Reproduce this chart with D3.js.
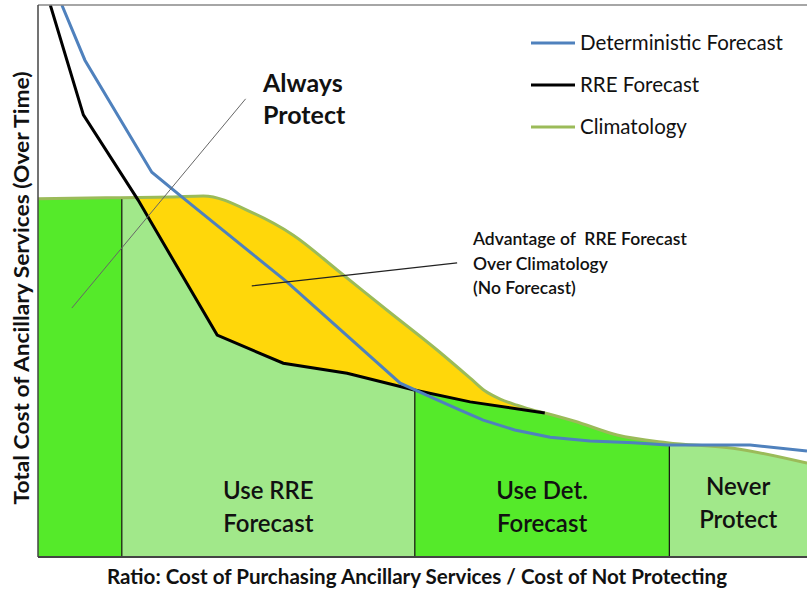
<!DOCTYPE html>
<html lang="en">
<head>
<meta charset="UTF-8">
<title>Ancillary services cost</title>
<style>
  body { margin: 0; background: #fff; }
  svg text { font-family: Lato, "Open Sans", sans-serif; fill: #111; }
</style>
</head>
<body>
<svg width="807" height="589"></svg>
<script src="https://d3js.org/d3.v7.min.js"></script>
<script>
// ratio axis runs 0..100, cost axis 0..100 (no ticks in the original)
var climX = [0, 10.7, 17.2, 21.5, 28.0, 33.2, 38.9, 45.4, 51.9, 56.2, 58.1, 60.1, 62.3, 64.4, 65.9, 69.8, 75.3, 81.8, 90.4, 100];
var climY = [64.9, 65.1, 65.2, 65.4, 62.3, 58.3, 52.0, 44.7, 37.5, 32.4, 30.1, 28.6, 27.5, 26.6, 26.1, 24.6, 22.1, 20.7, 19.7, 17.0];

var rreX = [1.6, 5.9, 13.0, 23.3, 31.9, 40.2, 48.8, 56.2, 65.9];
var rreY = [100, 80.1, 64.7, 40.2, 35.1, 33.3, 30.3, 28.1, 26.1];

var detX = [3.1, 6.1, 14.8, 18.9, 32.4, 47.1, 51.4, 54.9, 57.9, 62.0, 66.6, 71.8, 77.4, 81.8, 92.6, 100];
var detY = [100, 90.0, 69.7, 65.0, 49.8, 31.5, 28.8, 26.6, 24.8, 23.0, 21.7, 21.0, 20.7, 20.3, 20.3, 19.2];

// decision regions along the ratio axis
var regionEdges = [0, 10.9, 49.0, 82.1, 100];
var regionColors = ["#55ea2a", "#a1e88a", "#55ea2a", "#a1e88a"];
var regionLabels = [[], ["Use RRE", "Forecast"], ["Use Det.", "Forecast"], ["Never", "Protect"]];

var seriesNames = ["Deterministic Forecast", "RRE Forecast", "Climatology"];
var seriesColors = ["#4f81bd", "#000000", "#9bbb59"];

var svg = d3.select("svg");
var x = d3.scaleLinear().domain([0, 100]).range([38, 807]);
var y = d3.scaleLinear().domain([0, 100]).range([557, 5]);

var zip = function (xs, ys) { return xs.map(function (v, i) { return [v, ys[i]]; }); };
var clim = zip(climX, climY), rre = zip(rreX, rreY), det = zip(detX, detY);

var defs = svg.append("defs");
defs.append("clipPath").attr("id", "plot").append("rect")
    .attr("x", x(0)).attr("y", y(100)).attr("width", x(100) - x(0)).attr("height", y(0) - y(100));

var climArea = d3.area().curve(d3.curveMonotoneX)
    .x(d => x(d[0])).y0(y(0)).y1(d => y(d[1]));
var climLine = d3.line().curve(d3.curveMonotoneX)
    .x(d => x(d[0])).y(d => y(d[1]));
var straight = d3.line().x(d => x(d[0])).y(d => y(d[1]));

defs.append("clipPath").attr("id", "underClim").append("path").attr("d", climArea(clim));

// below the RRE curve, and everything to the right of where it joins climatology
var last = rre[rre.length - 1];
var rreClip = [[0, 0], [0, 100]].concat(rre, [[last[0], 110], [100, 110], [100, 0]]);
defs.append("clipPath").attr("id", "underRRE").append("path").attr("d", straight(rreClip) + "Z");

var plot = svg.append("g").attr("clip-path", "url(#plot)");

// yellow: advantage of RRE over climatology
plot.append("path").attr("d", climArea(clim)).attr("fill", "#ffd70a");

var regions = plot.append("g").attr("clip-path", "url(#underClim)")
    .append("g").attr("clip-path", "url(#underRRE)");

regions.selectAll("rect")
    .data(regionColors).enter().append("rect")
    .attr("x", (d, i) => x(regionEdges[i]))
    .attr("width", (d, i) => x(regionEdges[i + 1]) - x(regionEdges[i]))
    .attr("y", y(100)).attr("height", y(0) - y(100))
    .attr("fill", d => d);

regions.selectAll("line")
    .data(regionEdges.slice(1, -1)).enter().append("line")
    .attr("x1", d => x(d)).attr("x2", d => x(d))
    .attr("y1", y(0)).attr("y2", y(100))
    .attr("stroke", "#111").attr("stroke-width", 1.2);

plot.append("path").attr("d", climLine(clim))
    .attr("fill", "none").attr("stroke", seriesColors[2]).attr("stroke-width", 3);
plot.append("path").attr("d", straight(rre))
    .attr("fill", "none").attr("stroke", seriesColors[1]).attr("stroke-width", 3);
plot.append("path").attr("d", straight(det))
    .attr("fill", "none").attr("stroke", seriesColors[0]).attr("stroke-width", 3);

// frame
svg.append("line").attr("x1", x(0)).attr("x2", x(100)).attr("y1", y(100)).attr("y2", y(100))
    .attr("stroke", "#888").attr("stroke-width", 1.5);
svg.append("line").attr("x1", x(0)).attr("x2", x(0)).attr("y1", y(100)).attr("y2", y(0))
    .attr("stroke", "#444").attr("stroke-width", 1.5);
svg.append("line").attr("x1", x(0)).attr("x2", x(100)).attr("y1", y(0)).attr("y2", y(0))
    .attr("stroke", "#444").attr("stroke-width", 2);

// region labels
regionLabels.forEach(function (lines, i) {
    var cx = (x(regionEdges[i]) + x(regionEdges[i + 1])) / 2;
    lines.forEach(function (t, j) {
        svg.append("text").attr("x", cx).attr("y", (i == 3 ? 495 : 499) + j * 33)
            .attr("text-anchor", "middle").style("font-size", "24px").style("font-weight", "600")
            .text(t);
    });
});

// annotations
svg.append("line").attr("x1", x(27.0)).attr("y1", y(83.0)).attr("x2", x(4.4)).attr("y2", y(45.1))
    .attr("stroke", "#666").attr("stroke-width", 1);
svg.append("line").attr("x1", x(27.8)).attr("y1", y(49.1)).attr("x2", x(54.5)).attr("y2", y(53.3))
    .attr("stroke", "#222").attr("stroke-width", 1.2);

["Always", "Protect"].forEach(function (t, j) {
    svg.append("text").attr("x", 263).attr("y", 92 + j * 32)
        .style("font-size", "25px").style("font-weight", "bold").text(t);
});
["Advantage of  RRE Forecast", "Over Climatology", "(No Forecast)"].forEach(function (t, j) {
    svg.append("text").attr("x", 473).attr("y", 245 + j * 24.5)
        .style("font-size", "17.5px").style("font-weight", "600").attr("xml:space", "preserve").text(t);
});

// legend
var legend = svg.selectAll(".legend").data(seriesNames).enter().append("g")
    .attr("transform", (d, i) => "translate(531," + (43 + i * 42) + ")");
legend.append("line").attr("x1", 0).attr("x2", 44)
    .attr("stroke", (d, i) => seriesColors[i]).attr("stroke-width", 3);
legend.append("text").attr("x", 49).attr("y", 7).style("font-size", "20.5px").text(d => d);

// axis titles
svg.append("text").attr("x", 417).attr("y", 584).attr("text-anchor", "middle")
    .style("font-size", "20px").style("font-weight", "bold")
    .attr("textLength", 620).attr("lengthAdjust", "spacingAndGlyphs")
    .text("Ratio: Cost of Purchasing Ancillary Services / Cost of Not Protecting");
svg.append("text").attr("transform", "translate(29,288) rotate(-90)").attr("text-anchor", "middle")
    .style("font-size", "20px").style("font-weight", "bold")
    .attr("textLength", 433).attr("lengthAdjust", "spacingAndGlyphs")
    .text("Total Cost of Ancillary Services (Over Time)");
</script>
</body>
</html>
